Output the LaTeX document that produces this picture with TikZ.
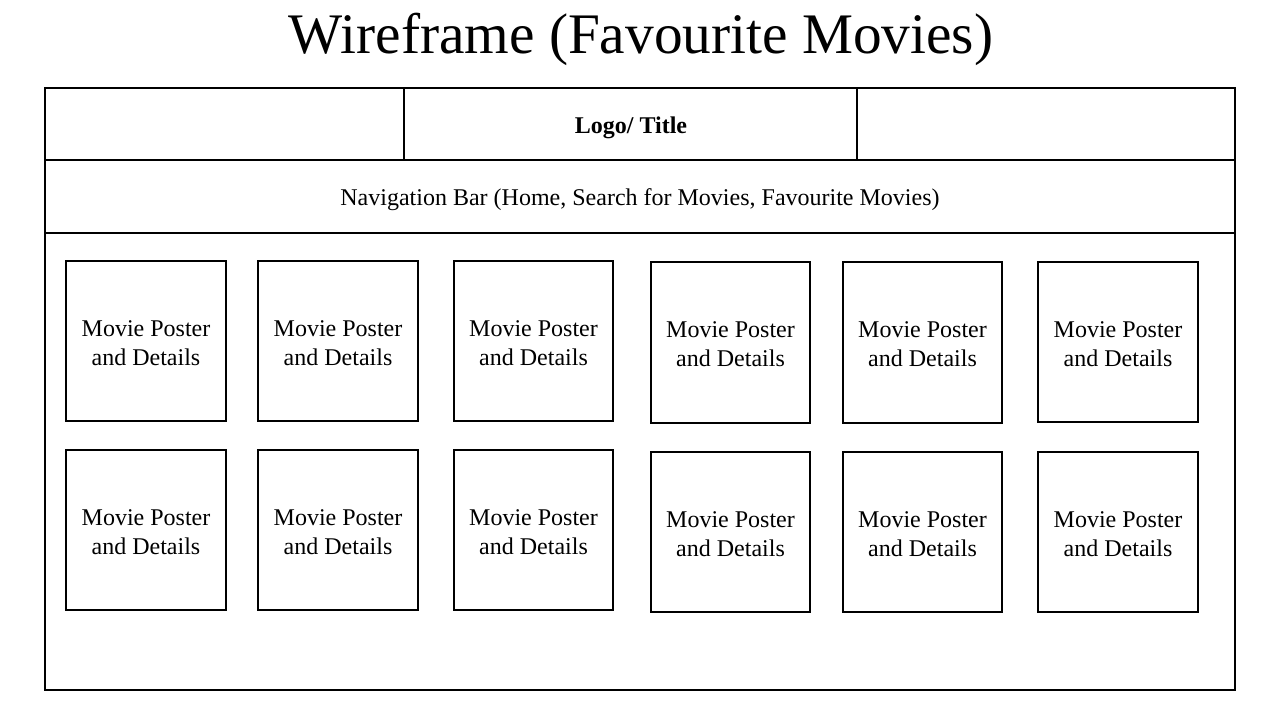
\documentclass[tikz,border=0pt]{standalone}
\usepackage{fontspec}
\setmainfont{Liberation Serif}
\begin{document}
\begin{tikzpicture}[x=0.75pt,y=-0.75pt,
  frame/.style={draw=black,line width=1.5pt},
  movietext/.style={align=center,font=\fontsize{18}{22}\selectfont}]
\useasboundingbox (0,0) rectangle (1280,720);
\node[font=\fontsize{43}{52}\selectfont] (title) at (641,39) {Wireframe (Favourite Movies)};
\draw[frame] (45,88) rectangle (1235,690);
\coordinate (h1) at (45,160); \coordinate (h2) at (1235,160);
\coordinate (n1) at (45,233); \coordinate (n2) at (1235,233);
\coordinate (v1t) at (404,88); \coordinate (v1b) at (404,160);
\coordinate (v2t) at (857,88); \coordinate (v2b) at (857,160);
\draw[frame] (h1) -- (h2);
\draw[frame] (n1) -- (n2);
\draw[frame] (v1t) -- (v1b);
\draw[frame] (v2t) -- (v2b);
\node[font=\bfseries\fontsize{18}{22}\selectfont] (logo) at (631,128) {Logo/ Title};
\node[font=\fontsize{18}{22}\selectfont] (nav) at (640,200) {Navigation Bar (Home, Search for Movies, Favourite Movies)};
\foreach \n/\xa/\ya/\xb/\yb in {a1/66/261/226/421, a2/258/261/418/421, a3/454/261/613/421, a4/651/262/810/423, a5/843/262/1002/423, a6/1038/262/1198/422,
  b1/66/450/226/610, b2/258/450/418/610, b3/454/450/613/610, b4/651/452/810/612, b5/843/452/1002/612, b6/1038/452/1198/612}{
  \draw[frame] (\xa,\ya) rectangle (\xb,\yb);
  \node[movietext] (\n) at ({(\xa+\xb)/2},{(\ya+\yb)/2+2}) {Movie Poster\\and Details};
}
\end{tikzpicture}
\end{document}
